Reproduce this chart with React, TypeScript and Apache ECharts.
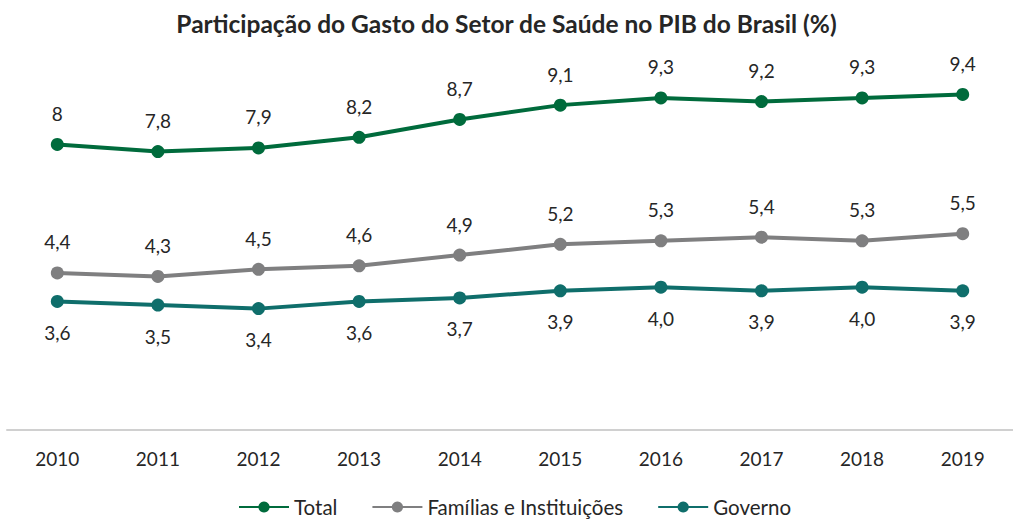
import React, { useEffect, useRef } from "react";
import * as echarts from "echarts";

const years = ["2010", "2011", "2012", "2013", "2014", "2015", "2016", "2017", "2018", "2019"];
const total = [8, 7.8, 7.9, 8.2, 8.7, 9.1, 9.3, 9.2, 9.3, 9.4];
const familias = [4.4, 4.3, 4.5, 4.6, 4.9, 5.2, 5.3, 5.4, 5.3, 5.5];
const governo = [3.6, 3.5, 3.4, 3.6, 3.7, 3.9, 4.0, 3.9, 4.0, 3.9];

const FONT = "Lato";
const TEXT = "#262626";

const fmt = (v: number, fixed: boolean) => (fixed ? v.toFixed(1) : String(v)).replace(".", ",");

export default function App() {
  const ref = useRef<HTMLDivElement>(null);
  useEffect(() => {
    document.body.style.margin = "0";
    const chart = echarts.init(ref.current!, null, { renderer: "svg" });
    const mk = (name: string, data: number[], color: string, pos: "top" | "bottom", dist: number, fixed: boolean) => ({
      name,
      type: "line",
      data,
      symbol: "circle",
      symbolSize: 13,
      lineStyle: { width: 4, color },
      itemStyle: { color },
      label: {
        show: true,
        position: pos,
        distance: dist,
        fontFamily: FONT,
        fontSize: 19,
        color: TEXT,
        formatter: (p: any) => fmt(p.value, fixed),
      },
    });
    chart.setOption({
      animation: false,
      backgroundColor: "#ffffff",
      title: {
        text: "Participação do Gasto do Setor de Saúde no PIB do Brasil (%)",
        left: "center",
        top: 6,
        textStyle: { fontFamily: FONT, fontSize: 24.5, fontWeight: "bold", color: TEXT },
      },
      legend: {
        top: 496,
        left: 238,
        itemWidth: 50,
        itemHeight: 14,
        itemGap: 34,
        padding: 0,
        textStyle: { fontFamily: FONT, fontSize: 20.5, color: TEXT, lineHeight: 22 },
        data: ["Total", "Famílias e Instituições", "Governo"],
      },
      grid: { left: 7, top: 73, width: 1011, height: 357 },
      xAxis: {
        type: "category",
        data: years,
        boundaryGap: true,
        axisLine: { lineStyle: { color: "#d0d0d0", width: 2 } },
        axisTick: { show: false },
        axisLabel: { fontFamily: FONT, fontSize: 19, color: TEXT, margin: 19 },
      },
      yAxis: {
        type: "value",
        min: 0,
        max: 10,
        show: false,
        splitLine: { show: false },
      },
      series: [
        mk("Total", total, "#006B3C", "top", 15, false),
        mk("Famílias e Instituições", familias, "#7F7F80", "top", 15, true),
        mk("Governo", governo, "#0F6E6B", "bottom", 15, true),
      ],
    });
    return () => chart.dispose();
  }, []);
  return <div ref={ref} style={{ width: 1013, height: 519 }} />;
}
